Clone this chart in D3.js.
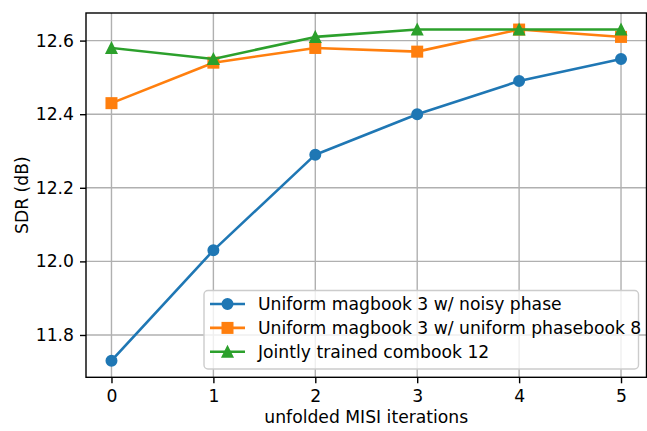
<!DOCTYPE html>
<html>
<head>
<meta charset="utf-8">
<script src="https://cdn.jsdelivr.net/npm/d3@7"></script>
<style>
  body { margin: 0; background: #fff; }
  text { font-family: "DejaVu Sans", sans-serif; fill: #000; }
</style>
</head>
<body>
<svg id="chart"></svg>
<script>
const iterations = [0, 1, 2, 3, 4, 5];
const noisyPhase = [11.73, 12.03, 12.29, 12.40, 12.49, 12.55];
const uniformPhasebook = [12.43, 12.54, 12.58, 12.57, 12.63, 12.61];
const jointCombook = [12.58, 12.55, 12.61, 12.63, 12.63, 12.63];
const seriesNames = [
  "Uniform magbook 3 w/ noisy phase",
  "Uniform magbook 3 w/ uniform phasebook 8",
  "Jointly trained combook 12"
];
const yTicks = [11.8, 12.0, 12.2, 12.4, 12.6];

const w = 647, h = 431;
const padL = 86, padR = 646.5, padT = 13, padB = 377.3;
const fs = 17.2;
const svg = d3.select("#chart").attr("width", w).attr("height", h);

const series = [
  {name: seriesNames[0], vals: noisyPhase, col: "#1f77b4", mk: "o"},
  {name: seriesNames[1], vals: uniformPhasebook, col: "#ff7f0e", mk: "s"},
  {name: seriesNames[2], vals: jointCombook, col: "#2ca02c", mk: "^"}
];

const xScale = d3.scaleLinear().domain([-0.25, 5.25]).range([padL, padR]);
const yScale = d3.scaleLinear().domain([11.685, 12.675]).range([padB, padT]);

// grid
const grid = svg.append("g");
grid.selectAll("line.gx").data(iterations).enter().append("line")
  .attr("x1", d => xScale(d)).attr("x2", d => xScale(d))
  .attr("y1", padT).attr("y2", padB)
  .attr("stroke", "#b0b0b0").attr("stroke-width", 1.4);
grid.selectAll("line.gy").data(yTicks).enter().append("line")
  .attr("x1", padL).attr("x2", padR)
  .attr("y1", d => yScale(d)).attr("y2", d => yScale(d))
  .attr("stroke", "#b0b0b0").attr("stroke-width", 1.4);

// axes
const xAxis = d3.axisBottom(xScale).tickValues(iterations).tickFormat(d3.format("d"))
  .tickSizeOuter(0).tickSize(6).tickPadding(6);
const yAxis = d3.axisLeft(yScale).tickValues(yTicks).tickFormat(d3.format(".1f"))
  .tickSizeOuter(0).tickSize(6).tickPadding(6);

const gx = svg.append("g").attr("transform", `translate(0,${padB})`).call(xAxis);
const gy = svg.append("g").attr("transform", `translate(${padL},0)`).call(yAxis);
[gx, gy].forEach(g => {
  g.select(".domain").remove();
  g.selectAll(".tick line").attr("stroke", "#000").attr("stroke-width", 1.4);
  g.selectAll(".tick text").attr("font-size", fs).attr("font-family", "DejaVu Sans").attr("fill", "#000");
});

const marker = (g, mk, col, cx, cy) => {
  const s = 10.3;
  if (mk === "o") {
    g.append("circle").attr("cx", cx).attr("cy", cy).attr("r", s / 2)
      .attr("fill", col).attr("stroke", col).attr("stroke-width", 1.7);
  } else if (mk === "s") {
    g.append("rect").attr("x", cx - s / 2).attr("y", cy - s / 2).attr("width", s).attr("height", s)
      .attr("fill", col).attr("stroke", col).attr("stroke-width", 1.7);
  } else {
    g.append("path")
      .attr("d", `M${cx},${cy - s / 2}L${cx + s / 2},${cy + s / 2}L${cx - s / 2},${cy + s / 2}Z`)
      .attr("fill", col).attr("stroke", col).attr("stroke-width", 1.7).attr("stroke-linejoin", "miter");
  }
};

const line = d3.line().x((d, i) => xScale(iterations[i])).y(d => yScale(d));
const plot = svg.append("g");
series.forEach(s => {
  const g = plot.append("g");
  g.append("path").datum(s.vals).attr("d", line)
    .attr("fill", "none").attr("stroke", s.col).attr("stroke-width", 2.6)
    .attr("stroke-linejoin", "round").attr("stroke-linecap", "square");
  s.vals.forEach((v, i) => marker(g, s.mk, s.col, xScale(iterations[i]), yScale(v)));
});

// spines
svg.append("rect").attr("x", padL).attr("y", padT)
  .attr("width", padR - padL).attr("height", padB - padT)
  .attr("fill", "none").attr("stroke", "#000").attr("stroke-width", 1.4);

// labels
svg.append("text").attr("x", (padL + padR) / 2).attr("y", 423)
  .attr("text-anchor", "middle").attr("font-size", fs).text("unfolded MISI iterations");
svg.append("text").attr("transform", `translate(28,${(padT + padB) / 2}) rotate(-90)`)
  .attr("text-anchor", "middle").attr("font-size", fs).text("SDR (dB)");

// legend
const lg = svg.append("g");
lg.append("rect").attr("x", 204).attr("y", 290.5).attr("width", 434.5).attr("height", 78.5)
  .attr("rx", 4).attr("fill", "#fff").attr("fill-opacity", 0.8)
  .attr("stroke", "#cccccc").attr("stroke-width", 1.4);
series.forEach((s, i) => {
  const y = 304 + i * 23.9;
  lg.append("line").attr("x1", 210).attr("x2", 245).attr("y1", y).attr("y2", y)
    .attr("stroke", s.col).attr("stroke-width", 2.6);
  marker(lg, s.mk, s.col, 227.5, y);
  lg.append("text").attr("x", 258).attr("y", y).attr("dy", "0.36em")
    .attr("font-size", fs).text(s.name);
});
</script>
</body>
</html>
